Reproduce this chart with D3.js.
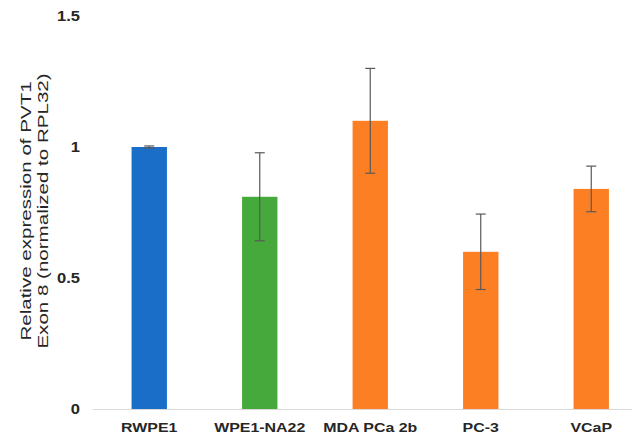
<!DOCTYPE html>
<html>
<head>
<meta charset="utf-8">
<script src="https://cdn.jsdelivr.net/npm/d3@7"></script>
<style>
  html, body { margin: 0; padding: 0; background: #fff; }
  svg { display: block; }
  .tick text { font-family: Arial, "Liberation Sans", sans-serif; }
</style>
</head>
<body>
<svg id="chart" width="636" height="440"></svg>
<script>
// Cell lines and their mean relative expression with standard error
const categories = ["RWPE1", "WPE1-NA22", "MDA PCa 2b", "PC-3", "VCaP"];
const values = [1.0, 0.81, 1.10, 0.60, 0.84];
const errors = [0.004, 0.168, 0.20, 0.144, 0.087];
const yTicks = [0, 0.5, 1, 1.5];
const yTickLabels = ["0", "0.5", "1", "1.5"];

const barColors = ["#1a6ec8", "#45aa3b", "#fd7f23", "#fd7f23", "#fd7f23"];

const svg = d3.select("#chart");
const font = 'Arial, "Liberation Sans", sans-serif';

// Widen labels horizontally, keeping their anchor
function widen(sel, k) {
  sel.each(function () {
    const len = this.getComputedTextLength();
    d3.select(this).attr("textLength", len * k).attr("lengthAdjust", "spacingAndGlyphs");
  });
}

const x = d3.scaleBand()
  .domain(categories)
  .range([94, 646.5])
  .paddingInner(0.68)
  .paddingOuter(0.34);

const y = d3.scaleLinear()
  .domain([0, 1.5])
  .range([409, 16]);

const color = d3.scaleOrdinal().domain(categories).range(barColors);

// Y axis: labels only
const yAxis = svg.append("g")
  .attr("transform", "translate(80,0)")
  .call(d3.axisLeft(y).tickValues(yTicks)
    .tickFormat((d, i) => yTickLabels[i]).tickSize(0).tickPadding(0));
yAxis.select(".domain").remove();
yAxis.selectAll("text")
  .attr("font-size", 14)
  .attr("font-weight", "bold")
  .attr("fill", "#262626")
  .call(widen, 1.18);

// Bars
svg.append("g").selectAll("rect")
  .data(categories)
  .join("rect")
  .attr("x", d => x(d))
  .attr("width", x.bandwidth())
  .attr("y", (d, i) => y(values[i]))
  .attr("height", (d, i) => y(0) - y(values[i]))
  .attr("fill", d => color(d));

// Baseline
svg.append("line")
  .attr("x1", 93).attr("x2", 632)
  .attr("y1", y(0) + 0.5).attr("y2", y(0) + 0.5)
  .attr("stroke", "#d9d9d9").attr("stroke-width", 1);

// Error bars
const eb = svg.append("g").attr("stroke", "#595959").attr("stroke-width", 1.2);
categories.forEach((c, i) => {
  const cx = x(c) + x.bandwidth() / 2;
  const hi = y(values[i] + errors[i]);
  const lo = y(values[i] - errors[i]);
  eb.append("line").attr("x1", cx).attr("x2", cx).attr("y1", hi).attr("y2", lo);
  eb.append("line").attr("x1", cx - 5).attr("x2", cx + 5).attr("y1", hi).attr("y2", hi);
  eb.append("line").attr("x1", cx - 5).attr("x2", cx + 5).attr("y1", lo).attr("y2", lo);
});

// X axis labels
const xAxis = svg.append("g")
  .attr("transform", `translate(0,${y(0)})`)
  .call(d3.axisBottom(x).tickSize(0).tickPadding(13));
xAxis.select(".domain").remove();
xAxis.selectAll("text")
  .attr("font-size", 13.5)
  .attr("font-weight", "bold")
  .attr("fill", "#262626")
  .call(widen, 1.18);

// Y axis title (two lines, stretched along the text direction)
const title = svg.append("text")
  .attr("transform", "translate(0,211) rotate(-90) scale(1.37,1)")
  .attr("text-anchor", "middle")
  .attr("font-family", font)
  .attr("font-size", 15)
  .attr("fill", "#262626");
title.append("tspan").attr("x", 0).attr("y", 31).text("Relative expression of PVT1");
title.append("tspan").attr("x", 0).attr("y", 48.5).text("Exon 8 (normalized to RPL32)");
</script>
</body>
</html>
